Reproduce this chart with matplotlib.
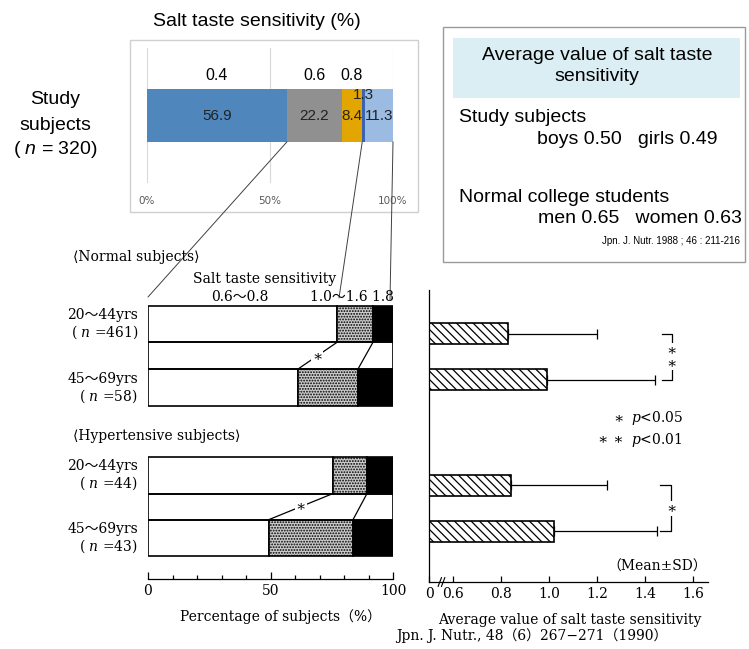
import numpy as np
import matplotlib.pyplot as plt
from matplotlib.patches import Rectangle, ConnectionPatch

W, H = 749, 649
SANS = ['Liberation Sans', 'DejaVu Sans']
SERIF = ['DejaVu Serif', 'DejaVu Sans', 'Noto Sans CJK JP']

plt.rcParams['hatch.linewidth'] = 0.9
plt.rcParams['mathtext.fontset'] = 'custom'
plt.rcParams['mathtext.it'] = 'Liberation Sans:italic'
plt.rcParams['mathtext.rm'] = 'Liberation Sans'

# salt taste sensitivity of the study subjects (%)
top_levels = ['0.4', '0.6', '0.8', '', '']
top_pct = [56.9, 22.2, 8.4, 1.3, 11.3]
top_colors = ['#4f87bd', '#909090', '#e3a600', '#3b63ae', '#9bbbe2']

# reference groups: share of subjects per sensitivity class (%)
group_age = ['20～44yrs', '45～69yrs', '20～44yrs', '45～69yrs']
group_n = [461, 58, 44, 43]
pct_low = [77.1, 61.2, 75.5, 49.4]    # 0.6~0.8
pct_mid = [14.7, 24.5, 13.9, 34.3]    # 1.0~1.6
pct_high = [8.2, 14.3, 10.6, 16.3]    # 1.8

# average value of salt taste sensitivity (mean, SD)
mean_val = [0.83, 0.99, 0.84, 1.02]
sd_val = [0.37, 0.45, 0.40, 0.43]


def box(x0, y0, x1, y1):
    return [x0 / W, 1 - y1 / H, (x1 - x0) / W, (y1 - y0) / H]


def ftext(x, y, s, **kw):
    return fig.text(x / W, 1 - y / H, s, **kw)


def frect(x0, y0, x1, y1, **kw):
    fig.add_artist(Rectangle((x0 / W, 1 - y1 / H), (x1 - x0) / W, (y1 - y0) / H,
                             transform=fig.transFigure, **kw))


fig = plt.figure(figsize=(W / 100, H / 100), dpi=100)

# ---- study subjects stacked bar ----
frect(130, 40, 418, 212, fill=False, ec='#d0d0d0', lw=1)
ftext(257, 22, 'Salt taste sensitivity (%)', family=SANS, fontsize=14,
      ha='center', va='center')
ax1 = fig.add_axes(box(147, 48, 393, 183))
bh1 = 0.39
left = 0
for v, c, lev in zip(top_pct, top_colors, top_levels):
    ax1.barh(0, v, left=left, height=bh1, color=c)
    ymark = 0.15 if v < 3 else 0
    ax1.text(left + v / 2, ymark, f'{v:.1f}', ha='center', va='center',
             family=SANS, fontsize=11, color='#222222')
    if lev:
        ax1.text(left + v / 2, 0.3, lev, ha='center', va='center',
                 family=SANS, fontsize=11.5)
    left += v
ax1.set_xlim(0, 100)
ax1.set_ylim(-0.5, 0.5)
ax1.set_xticks([0, 50, 100], ['0%', '50%', '100%'])
ax1.set_yticks([])
ax1.tick_params(length=0, pad=9, labelsize=7.5, labelcolor='#595959')
ax1.grid(axis='x', color='#d9d9d9', lw=0.8)
ax1.set_axisbelow(True)
for s in ax1.spines.values():
    s.set_visible(False)

ftext(55, 100, 'Study', family=SANS, fontsize=14, ha='center', va='center')
ftext(55, 125, 'subjects', family=SANS, fontsize=14, ha='center', va='center')
ftext(55, 149, r'( $n$ = 320)', family=SANS, fontsize=14, ha='center',
      va='center', math_fontfamily='custom')

# ---- average value box ----
frect(443, 27, 745, 262, fill=False, ec='#9a9a9a', lw=1)
frect(453, 38, 740, 98, color='#daeef3', lw=0)
ftext(597, 66, 'Average value of salt taste\nsensitivity', family=SANS,
      fontsize=14, ha='center', va='center', linespacing=1.3)
ftext(459, 117, 'Study subjects', family=SANS, fontsize=14, va='center')
ftext(537, 140, 'boys 0.50   girls 0.49', family=SANS, fontsize=14, va='center')
ftext(459, 197, 'Normal college students', family=SANS, fontsize=14, va='center')
ftext(538, 219, 'men 0.65   women 0.63', family=SANS, fontsize=14, va='center')
ftext(740, 241, 'Jpn. J. Nutr. 1988 ; 46 : 211-216', family=SANS, fontsize=7,
      ha='right', va='center')

# ---- distribution by age group ----
ax2 = fig.add_axes(box(148, 285, 393, 579))
ypos2 = np.array([0, 1, 2.38, 3.37])
bh2 = 0.58
low = np.array(pct_low)
mid = np.array(pct_mid)
high = np.array(pct_high)
ax2.barh(ypos2, low, height=bh2, color='white', edgecolor='black', lw=1.2)
ax2.barh(ypos2, mid, left=low, height=bh2, color='#cccccc', edgecolor='black',
         hatch='......', lw=1.2)
ax2.barh(ypos2, high, left=low + mid, height=bh2, color='black',
         edgecolor='black', lw=1.2)
for a, b in [(0, 1), (2, 3)]:
    y0 = ypos2[a] + bh2 / 2
    y1 = ypos2[b] - bh2 / 2
    ax2.add_patch(Rectangle((0, y0), 100, y1 - y0, fill=False, ec='black', lw=1.2))
    ca = np.cumsum([pct_low[a], pct_mid[a]])
    cb = np.cumsum([pct_low[b], pct_mid[b]])
    for k in range(2):
        ax2.plot([ca[k], cb[k]], [y0, y1], color='black', lw=0.9)
    ax2.text((ca[0] + cb[0]) / 2, (y0 + y1) / 2, '∗', ha='center', va='center',
             family=SERIF, fontsize=11,
             bbox=dict(fc='white', ec='none', pad=0.5))
for yp, age, n in zip(ypos2, group_age, group_n):
    ax2.text(-4, yp - 0.14, age, ha='right', va='center', family=SERIF, fontsize=10)
    ax2.text(-4, yp + 0.13, r'( $n$ =%d)' % n, ha='right', va='center',
             family=SERIF, fontsize=10, math_fontfamily='dejavuserif')
ax2.set_xlim(0, 100)
ax2.set_ylim(4.016, -0.614)
ax2.set_yticks([])
ax2.set_xticks([0, 50, 100])
ax2.set_xticks(np.arange(0, 101, 10), minor=True)
ax2.tick_params(axis='x', which='both', direction='in', width=0.9)
ax2.tick_params(axis='x', which='major', length=5, labelsize=10)
ax2.tick_params(axis='x', which='minor', length=3)
for lab in ax2.get_xticklabels():
    lab.set_family(SERIF)
for s in ['top', 'left', 'right']:
    ax2.spines[s].set_visible(False)
ax2.spines['bottom'].set_linewidth(0.9)

ftext(73, 257, '⟨Normal subjects⟩', family=SERIF, fontsize=10, va='center')
ftext(73, 436, '⟨Hypertensive subjects⟩', family=SERIF, fontsize=10, va='center')
ftext(265, 279, 'Salt taste sensitivity', family=SERIF, fontsize=10,
      ha='center', va='center')
ftext(240, 297, '0.6～0.8', family=SERIF, fontsize=10, ha='center', va='center')
ftext(394, 297, '1.0～1.6 1.8', family=SERIF, fontsize=10, ha='right', va='center')
ftext(280, 617, 'Percentage of subjects（%）', family=SERIF, fontsize=10,
      ha='center', va='center')

# links from the study subjects bar down to the reference classes
bounds = np.cumsum(top_pct)
links = [(bounds[0], 148, 297), (bounds[2], 339, 298), (min(bounds[4], 100), 390, 300)]
for xv, px, py in links:
    fig.add_artist(ConnectionPatch(xyA=(xv, -bh1 / 2), coordsA=ax1.transData,
                                   xyB=(px / W, 1 - py / H),
                                   coordsB='figure fraction',
                                   color='#404040', lw=0.7))

# ---- mean ± SD ----
ax3 = fig.add_axes(box(429, 290, 708, 582))
ypos3 = np.array([0, 1, 3.3, 4.3])
x0 = 0.5
ax3.barh(ypos3, np.array(mean_val) - x0, left=x0, height=0.46, color='white',
         edgecolor='black', hatch='\\\\\\\\', lw=1.2)
ax3.errorbar(mean_val, ypos3, xerr=[np.zeros(4), sd_val], fmt='none',
             ecolor='black', elinewidth=0.9, capsize=3.5, capthick=0.9)
ax3.set_xlim(x0, 1.6625)
ax3.set_ylim(5.40, -0.946)
ax3.set_yticks([])
ax3.set_xticks([0.5, 0.6, 0.8, 1.0, 1.2, 1.4, 1.6],
               ['0', '0.6', '0.8', '1.0', '1.2', '1.4', '1.6'])
ax3.tick_params(axis='x', direction='in', length=4, width=0.9, labelsize=10)
for lab in ax3.get_xticklabels():
    lab.set_family(SERIF)
for s in ['top', 'right']:
    ax3.spines[s].set_visible(False)
for s in ['left', 'bottom']:
    ax3.spines[s].set_linewidth(0.9)
tr = ax3.get_xaxis_transform()
for xb in [0.538, 0.552]:
    ax3.plot([xb, xb + 0.014], [-0.015, 0.015], transform=tr, color='black',
             lw=0.8, clip_on=False)

for (a, b), stars, xv, xarm in [((0, 1), 2, 1.5125, 1.47), ((2, 3), 1, 1.51, 1.4625)]:
    ax3.plot([xarm, xv, xv, xarm], [ypos3[a], ypos3[a], ypos3[b], ypos3[b]],
             color='black', lw=0.9)
    ym = (ypos3[a] + ypos3[b]) / 2
    offs = [-0.14, 0.14] if stars == 2 else [0]
    for off in offs:
        ax3.text(xv, ym + off, '∗', ha='center', va='center', family=SERIF,
                 fontsize=11, bbox=dict(fc='white', ec='none', pad=0.3))

ftext(624, 418, '∗', family=SERIF, fontsize=11, ha='right', va='center')
ftext(631, 418, r'$p$<0.05', family=SERIF, fontsize=10, va='center',
      math_fontfamily='dejavuserif')
ftext(624, 440, '∗ ∗', family=SERIF, fontsize=11, ha='right', va='center')
ftext(631, 440, r'$p$<0.01', family=SERIF, fontsize=10, va='center',
      math_fontfamily='dejavuserif')
ftext(707, 567, '（Mean±SD）', family=SERIF, fontsize=10, ha='right', va='center')
ftext(570, 620, 'Average value of salt taste sensitivity', family=SERIF,
      fontsize=10, ha='center', va='center')
ftext(532, 636, 'Jpn. J. Nutr., 48（6）267−271（1990）', family=SERIF,
      fontsize=10, ha='center', va='center')

fig.savefig('out.png', dpi=100)
